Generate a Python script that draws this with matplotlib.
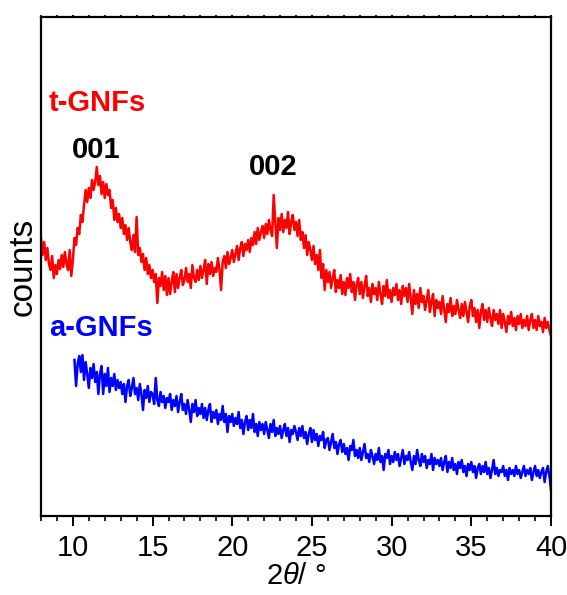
import numpy as np
import matplotlib
matplotlib.use("Agg")
import matplotlib.pyplot as plt
from matplotlib.ticker import MultipleLocator

plt.rcParams["font.family"] = ["Liberation Sans", "DejaVu Sans"]
plt.rcParams["mathtext.fontset"] = "custom"
plt.rcParams["mathtext.rm"] = "Liberation Sans"
plt.rcParams["mathtext.it"] = "Liberation Sans:italic"

# XRD patterns, 0.1 deg step (arbitrary intensity units)
t_start = 8.0
t_counts = [
    362, 345, 358, 340, 352, 336, 330, 344, 322, 335,
    326, 340, 331, 345, 333, 348, 336, 330, 350, 324,
    340, 362, 355, 372, 366, 385, 378, 395, 410, 398,
    412, 402, 420, 410, 418, 433, 415, 424, 406, 418,
    402, 416, 405, 410, 392, 400, 380, 392, 378, 386,
    372, 382, 366, 375, 360, 372, 358, 350, 365, 348,
    383, 345, 352, 338, 346, 330, 342, 326, 335, 322,
    330, 318, 326, 297, 322, 314, 328, 310, 324, 305,
    322, 306, 318, 328, 308, 326, 312, 322, 330, 315,
    320, 332, 318, 326, 312, 335, 322, 318, 330, 320,
    334, 322, 330, 340, 316, 336, 326, 338, 324, 332,
    328, 342, 330, 310, 338, 344, 332, 348, 336, 342,
    350, 338, 346, 354, 340, 352, 358, 344, 356, 350,
    360, 348, 362, 355, 368, 356, 372, 360, 368, 374,
    362, 376, 366, 380, 370, 364, 405, 378, 352, 382,
    370, 386, 368, 380, 372, 388, 366, 378, 385, 370,
    378, 364, 380, 360, 368, 352, 365, 345, 358, 350,
    340, 354, 336, 345, 330, 350, 322, 336, 310, 330,
    318, 328, 312, 322, 330, 308, 320, 312, 325, 306,
    318, 305, 322, 312, 326, 308, 318, 300, 315, 322,
    306, 318, 302, 314, 324, 304, 312, 298, 316, 306,
    312, 300, 318, 306, 296, 314, 304, 320, 302, 310,
    298, 312, 305, 316, 300, 310, 296, 314, 304, 312,
    298, 316, 302, 286, 310, 296, 306, 292, 312, 298,
    304, 290, 300, 310, 288, 298, 306, 284, 300, 292,
    298, 286, 304, 290, 278, 296, 288, 302, 284, 294,
    286, 300, 290, 282, 296, 284, 298, 288, 278, 294,
    300, 284, 292, 278, 290, 272, 288, 296, 280, 290,
    278, 292, 282, 274, 290, 280, 286, 276, 290, 272,
    286, 278, 268, 284, 276, 288, 274, 282, 270, 284,
    276, 286, 272, 280, 274, 284, 270, 280, 286, 272,
    280, 270, 284, 274, 278, 268, 282, 272, 278, 270,
    264,
]

a_start = 10.1
a_counts = [
    240, 214, 236, 244, 228, 245, 220, 238, 226,
    212, 232, 222, 236, 218, 228, 206, 226, 234, 206,
    226, 214, 232, 208, 222, 214, 226, 210, 220, 212,
    218, 206, 216, 198, 214, 220, 204, 212, 222, 206,
    212, 200, 216, 206, 190, 210, 202, 214, 198, 208,
    206, 196, 222, 200, 194, 208, 198, 204, 192, 202,
    198, 206, 190, 200, 194, 204, 188, 198, 206, 190,
    196, 186, 200, 190, 178, 196, 188, 200, 184, 192,
    186, 196, 182, 192, 180, 190, 196, 178, 188, 182,
    190, 176, 186, 180, 194, 178, 186, 168, 184, 178,
    186, 174, 182, 176, 188, 172, 180, 166, 178, 184,
    170, 180, 172, 186, 168, 176, 164, 178, 170, 176,
    166, 178, 170, 162, 176, 168, 180, 164, 172, 166,
    174, 162, 170, 176, 164, 172, 158, 170, 166, 174,
    168, 160, 172, 164, 174, 162, 168, 156, 166, 172,
    158, 170, 160, 166, 154, 164, 160, 168, 152, 160,
    162, 150, 158, 166, 152, 158, 146, 156, 160, 148,
    156, 146, 152, 140, 154, 150, 160, 144, 150, 142,
    152, 140, 148, 156, 142, 146, 138, 150, 144, 136,
    146, 140, 152, 138, 144, 130, 146, 142, 150, 136,
    144, 138, 148, 140, 146, 134, 142, 150, 136, 144,
    140, 148, 138, 130, 144, 136, 150, 140, 134, 146,
    138, 144, 132, 140, 136, 146, 130, 142, 136, 140,
    134, 142, 130, 138, 144, 128, 138, 132, 142, 130,
    136, 126, 138, 132, 140, 128, 134, 124, 136, 130,
    138, 128, 134, 122, 132, 136, 126, 134, 128, 138,
    126, 132, 122, 130, 140, 126, 132, 124, 130, 128,
    134, 124, 130, 120, 132, 126, 130, 124, 134, 126,
    130, 122, 128, 134, 124, 130, 126, 132, 120, 128,
    134, 124, 130, 122, 128, 132, 118, 128, 134, 124,
    110,
]

t_theta = np.round(t_start + 0.1 * np.arange(len(t_counts)), 1)
a_theta = np.round(a_start + 0.1 * np.arange(len(a_counts)), 1)

# sample names and reflection labels
sample_labels = ["t-GNFs", "a-GNFs"]
sample_label_pos = [(8.5, 489), (8.5, 264)]
peak_labels = ["001", "002"]
peak_label_pos = [(11.45, 442), (22.55, 425)]

fig = plt.figure(figsize=(5.67, 5.95), dpi=100)
ax = fig.add_axes([41 / 567, 79 / 595, 510 / 567, 499 / 595])

ax.plot(t_theta, t_counts, color="#ff0000", lw=1.8)
ax.plot(a_theta, a_counts, color="#0000ff", lw=1.8)

for label, (x, y), c in zip(sample_labels, sample_label_pos, ["#ff0000", "#0000ff"]):
    ax.text(x, y, label, color=c, fontsize=21, fontweight="bold",
            ha="left", va="baseline")
for label, (x, y) in zip(peak_labels, peak_label_pos):
    ax.text(x, y, label, color="black", fontsize=21, fontweight="bold",
            ha="center", va="baseline")

ax.set_xlim(8, 40)
ax.set_ylim(84, 583)
ax.set_yticks([])
ax.xaxis.set_major_locator(MultipleLocator(5))
ax.xaxis.set_minor_locator(MultipleLocator(1))
ax.tick_params(axis="x", which="major", direction="out", length=7, width=1.4,
               labelsize=21, pad=6)
ax.tick_params(axis="x", which="minor", direction="out", length=3.5, width=1.2)
# short marks along the top frame
ax.tick_params(axis="x", which="both", top=True)
for t in ax.xaxis.get_major_ticks() + ax.xaxis.get_minor_ticks():
    t.tick2line.set_markersize(1.5)
for sp in ax.spines.values():
    sp.set_linewidth(1.6)

ax.set_xlabel(r"2$\it{\theta}$/ °", fontsize=21, labelpad=0)
ax.set_ylabel("counts", fontsize=24, labelpad=2)

fig.savefig("out.png", dpi=100)
